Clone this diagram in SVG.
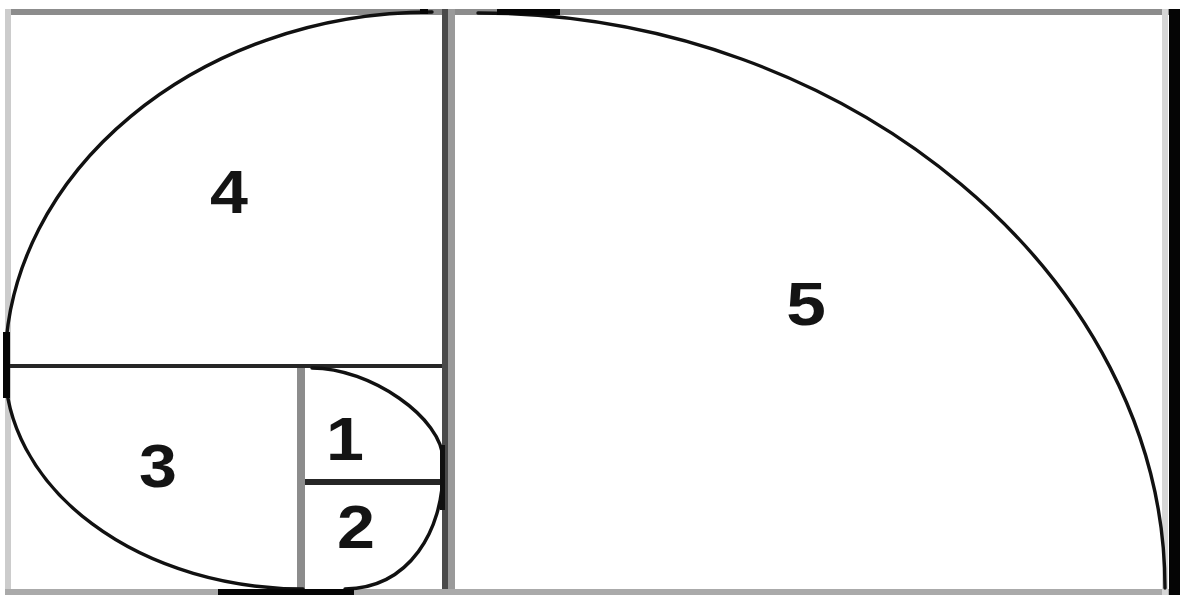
<svg xmlns="http://www.w3.org/2000/svg" width="1180" height="595" viewBox="0 0 1180 595">
  <style>
    .lbl { font-family: "Liberation Sans", Arial, sans-serif; font-weight: bold; font-size: 62px; fill: #141414; text-anchor: middle; }
    .arc { fill: none; stroke: #111; stroke-width: 3.4; stroke-linecap: round; }
  </style>
  <rect x="0" y="0" width="1180" height="595" fill="#ffffff"/>

  <g id="frame">
    <rect x="5" y="9" width="1164" height="6" fill="#8c8c8c"/>
    <rect x="5" y="9" width="6" height="586" fill="#cccccc"/>
    <rect x="5" y="589" width="1164" height="6" fill="#aaaaaa"/>
    <rect x="1162" y="9" width="6" height="586" fill="#d6d6d6"/>
    <rect x="1169" y="9" width="11" height="586" fill="#050505"/>
  </g>

  <g id="grid">
    <rect x="442" y="9" width="6" height="580" fill="#4a4a4a"/>
    <rect x="448" y="9" width="7" height="580" fill="#9a9a9a"/>
    <rect x="5" y="364" width="437" height="4" fill="#262626"/>
    <rect x="297" y="368" width="8" height="221" fill="#8c8c8c"/>
    <rect x="305" y="479" width="137" height="6" fill="#262626"/>
  </g>

  <g id="spiral">
    <path class="arc" d="M478,13 C850,13 1165,278 1165,588"/>
    <path class="arc" d="M5,367 C5,172 198,12 432,12"/>
    <path class="arc" d="M5,367 A298,222 0 0 0 303,589"/>
    <path class="arc" d="M443,470 C443,530 410,588 345,589"/>
    <path class="arc" d="M312,368 C370,368 443,418 443,460"/>
    <rect x="497" y="9" width="63" height="6" fill="#050505"/>
    <rect x="420" y="9" width="8" height="5" fill="#050505"/>
    <rect x="3" y="332" width="7" height="66" fill="#050505"/>
    <rect x="440" y="445" width="5" height="65" fill="#111"/>
    <rect x="218" y="589" width="136" height="6" fill="#050505"/>
  </g>

  <g id="sq5"><text class="lbl" transform="translate(806,325) scale(1.15,1)">5</text></g>
  <g id="sq4"><text class="lbl" transform="translate(229,213) scale(1.1,1)">4</text></g>
  <g id="sq3"><text class="lbl" transform="translate(158,487) scale(1.1,1)">3</text></g>
  <g id="sq2"><text class="lbl" transform="translate(356,548) scale(1.1,1)">2</text></g>
  <g id="sq1"><text class="lbl" transform="translate(345,460) scale(1.1,1)">1</text></g>
</svg>
